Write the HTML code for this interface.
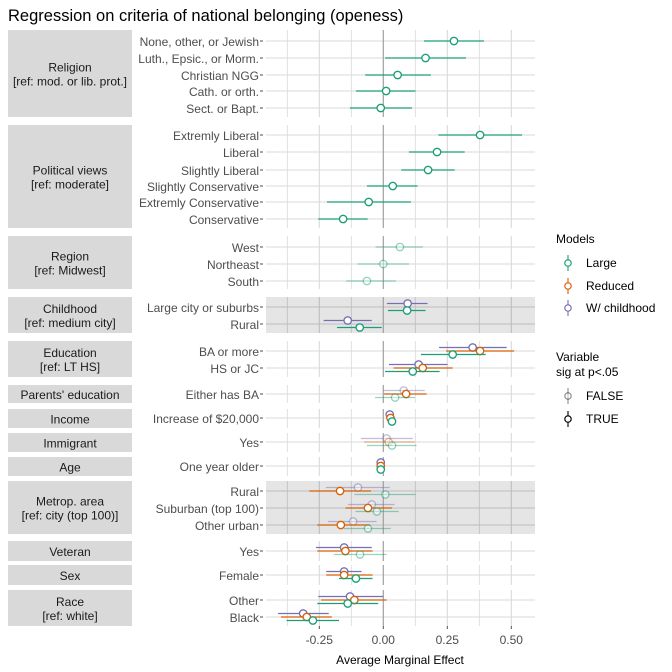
<!DOCTYPE html>
<html><head><meta charset="utf-8"><style>
body{margin:0;background:#fff;}
svg{display:block;font-family:"Liberation Sans",Arial,sans-serif;}
</style></head><body>
<svg id="c" width="672" height="672" viewBox="0 0 672 672">
<text x="8" y="21" font-size="16.5" fill="#000">Regression on criteria of national belonging (openess)</text>
<g id="panels"></g>
<g id="marks"></g>
<g id="legend">
<text x="556" y="243" font-size="12" fill="#000">Models</text>
<text x="556" y="361" font-size="12" fill="#000">Variable</text>
<text x="556" y="376" font-size="12" fill="#000">sig at p&lt;.05</text>
</g>
<text x="400" y="664" font-size="12" text-anchor="middle" fill="#000">Average Marginal Effect</text>
</svg>
<script>
const rowLabels=["None, other, or Jewish","Luth., Epsic., or Morm.","Christian NGG","Cath. or orth.","Sect. or Bapt.",
"Extremly Liberal","Liberal","Slightly Liberal","Slightly Conservative","Extremly Conservative","Conservative",
"West","Northeast","South","Large city or suburbs","Rural","BA or more","HS or JC","Either has BA","Increase of $20,000","Yes","One year older",
"Rural","Suburban (top 100)","Other urban","Yes","Female","Other","Black"];
const panelNames=[["Religion","[ref: mod. or lib. prot.]"],["Political views","[ref: moderate]"],["Region","[ref: Midwest]"],["Childhood","[ref: medium city]"],["Education","[ref: LT HS]"],["Parents' education"],["Income"],["Immigrant"],["Age"],["Metrop. area","[ref: city (top 100)]"],["Veteran"],["Sex"],["Race","[ref: white]"]];
const xTicks=[-0.25,0,0.25,0.5];
const xTickLabels=["-0.25","0.00","0.25","0.50"];
const N=null;
const largeEst=[0.276,0.165,0.056,0.011,-0.010,0.378,0.210,0.175,0.037,-0.057,-0.157,0.065,0.0,-0.064,0.093,-0.092,0.271,0.115,0.046,0.034,0.034,-0.010,0.008,-0.025,-0.060,-0.091,-0.107,-0.139,-0.275];
const largeLo=[0.159,0.007,-0.071,-0.107,-0.130,0.215,0.100,0.070,-0.064,-0.220,-0.254,-0.030,-0.100,-0.145,0.018,-0.181,0.147,0.007,-0.032,0.026,-0.064,-0.014,-0.113,-0.109,-0.154,-0.193,-0.173,-0.258,-0.378];
const largeHi=[0.393,0.323,0.186,0.126,0.112,0.542,0.318,0.279,0.134,0.108,-0.061,0.155,0.100,0.050,0.165,-0.006,0.400,0.220,0.123,0.042,0.130,-0.006,0.126,0.060,0.029,0.013,-0.042,-0.020,-0.173];
const largeSig=[1,1,1,1,1,1,1,1,1,1,1,0,0,0,1,1,1,1,0,1,0,1,0,0,0,0,1,1,1];
const reducedEst=[N,N,N,N,N,N,N,N,N,N,N,N,N,N,N,N,0.378,0.154,0.089,0.028,0.021,-0.010,-0.169,-0.060,-0.166,-0.148,-0.153,-0.113,-0.299];
const reducedLo=[N,N,N,N,N,N,N,N,N,N,N,N,N,N,N,N,0.245,0.040,0.003,0.020,-0.075,-0.014,-0.289,-0.148,-0.258,-0.258,-0.223,-0.243,-0.400];
const reducedHi=[N,N,N,N,N,N,N,N,N,N,N,N,N,N,N,N,0.511,0.271,0.169,0.036,0.123,-0.006,-0.048,0.034,-0.052,-0.042,-0.042,0.013,-0.201];
const reducedSig=[N,N,N,N,N,N,N,N,N,N,N,N,N,N,N,N,1,1,1,1,0,1,1,1,1,1,1,1,1];
const childEst=[N,N,N,N,N,N,N,N,N,N,N,N,N,N,0.095,-0.139,0.349,0.138,0.080,0.025,0.013,-0.010,-0.099,-0.045,-0.118,-0.153,-0.153,-0.130,-0.313];
const childLo=[N,N,N,N,N,N,N,N,N,N,N,N,N,N,0.014,-0.233,0.218,0.022,0.000,0.017,-0.087,-0.014,-0.224,-0.138,-0.216,-0.263,-0.223,-0.254,-0.411];
const childHi=[N,N,N,N,N,N,N,N,N,N,N,N,N,N,0.173,-0.045,0.482,0.251,0.162,0.033,0.115,-0.006,0.025,0.044,-0.026,-0.045,-0.085,0.000,-0.213];
const childSig=[N,N,N,N,N,N,N,N,N,N,N,N,N,N,1,1,1,1,0,1,0,1,0,0,0,1,1,1,1];

// layout
const rowPanel=[0,0,0,0,0,1,1,1,1,1,1,2,2,2,3,3,4,4,5,6,7,8,9,9,9,10,11,12,12];
const rowY=[41,58,75,91,108,135,152,170,186,202,219,247,264,281,307,324,351,368,394,418,442,466,491,508,525,551,575,600,617];
const panelTop=[30,125,236,297,341,385,409,433,457,481,541,565,590];
const panelBot=[117,228,289,333,377,403,428,452,476,534,561,585,626];
const panelGray=[0,0,0,1,0,0,0,0,0,1,0,0,0];
const PX0=266,PX1=535;
const x=v=>383.3+v*256;
const NS="http://www.w3.org/2000/svg";
function mk(tag,attrs,parent){const e=document.createElementNS(NS,tag);for(const k in attrs)e.setAttribute(k,attrs[k]);parent.appendChild(e);return e;}
const P=document.getElementById('panels'),M=document.getElementById('marks'),L=document.getElementById('legend'),S=document.getElementById('c');
panelNames.forEach((nm,i)=>{
  const t=panelTop[i],b=panelBot[i];
  const st=mk('rect',{x:8,y:t,width:124,height:b-t,fill:'#d9d9d9'},P);
  
  
  const cy=(t+b)/2;
  nm.forEach((ln,j)=>{
    const tx=mk('text',{x:70,y:cy+5+(j-(nm.length-1)/2)*14,'font-size':12,'text-anchor':'middle',fill:'#1a1a1a'},P);
    tx.textContent=ln;
    
    
  });
  const g=panelGray[i];
  const bg=mk('rect',{x:PX0,y:t,width:PX1-PX0,height:b-t,fill:g?'#e5e5e5':'#fff'},P);
  
  
  const gc=g?'#bdbdbd':'#d9d9d9';
  [-0.375,-0.25,-0.125,0.125,0.25,0.375,0.5].forEach(v=>{
    mk('line',{x1:x(v),x2:x(v),y1:t,y2:b,stroke:gc,'stroke-width':v%0.25===0?1.1:0.8},P);
  });
  rowY.forEach((y,r)=>{if(rowPanel[r]===i)mk('line',{x1:PX0,x2:PX1,y1:y,y2:y,stroke:gc,'stroke-width':1.1},P);});
  mk('line',{x1:x(0),x2:x(0),y1:t,y2:b,stroke:'#a0a0a0','stroke-width':1.2},P);
});
rowLabels.forEach((lb,r)=>{
  const tx=mk('text',{x:259,y:rowY[r]+5,'font-size':12,'text-anchor':'end',fill:'#4d4d4d'},P);
  tx.textContent=lb;
  
  
  mk('line',{x1:260,x2:263,y1:rowY[r],y2:rowY[r],stroke:'#4d4d4d'},P);
});
xTicks.forEach((v,i)=>{
  mk('line',{x1:x(v),x2:x(v),y1:626,y2:629,stroke:'#4d4d4d'},P);
  const tx=mk('text',{x:x(v),y:644,'font-size':12,'text-anchor':'middle',fill:'#4d4d4d'},P);
  tx.textContent=xTickLabels[i];
  
  
});
const models=[
 {name:'w-childhood',col:'#7570b3',est:childEst,lo:childLo,hi:childHi,sig:childSig,off:-3.5},
 {name:'reduced',col:'#d95f02',est:reducedEst,lo:reducedLo,hi:reducedHi,sig:reducedSig,off:0},
 {name:'large',col:'#1b9e77',est:largeEst,lo:largeLo,hi:largeHi,sig:largeSig,off:3.5}];
rowY.forEach((y0,r)=>{
  const present=models.filter(m=>m.est[r]!==null);
  present.forEach(m=>{
    const y=present.length>1?y0+m.off:y0;
    const op=m.sig[r]?1:0.45;
    const ln=mk('line',{x1:x(m.lo[r]),x2:x(m.hi[r]),y1:y,y2:y,stroke:m.col,'stroke-width':1.3,opacity:op},M);
    
    
    const pt=mk('circle',{cx:x(m.est[r]),cy:y,r:3.7,fill:'#fff',stroke:m.col,'stroke-width':1.3,opacity:op},M);
    
    
  });
});
function key(y,col,label,op,name){
  mk('line',{x1:568,x2:568,y1:y-8,y2:y+8,stroke:col,'stroke-width':1.1,opacity:op},L);
  mk('circle',{cx:568,cy:y,r:3.2,fill:'#fff',stroke:col,'stroke-width':1.2,opacity:op},L);
  const tx=mk('text',{x:586,y:y+4,'font-size':12,fill:'#000'},L);
  tx.textContent=label;
  
  
}
key(263,'#1b9e77','Large',1,'legend-entry-large');
key(286,'#d95f02','Reduced',1,'legend-entry-reduced');
key(308,'#7570b3','W/ childhood',1,'legend-entry-w-childhood');
key(396,'#000','FALSE',0.45,'legend-entry-false');
key(419,'#000','TRUE',1,'legend-entry-true');
</script>
</body></html>
